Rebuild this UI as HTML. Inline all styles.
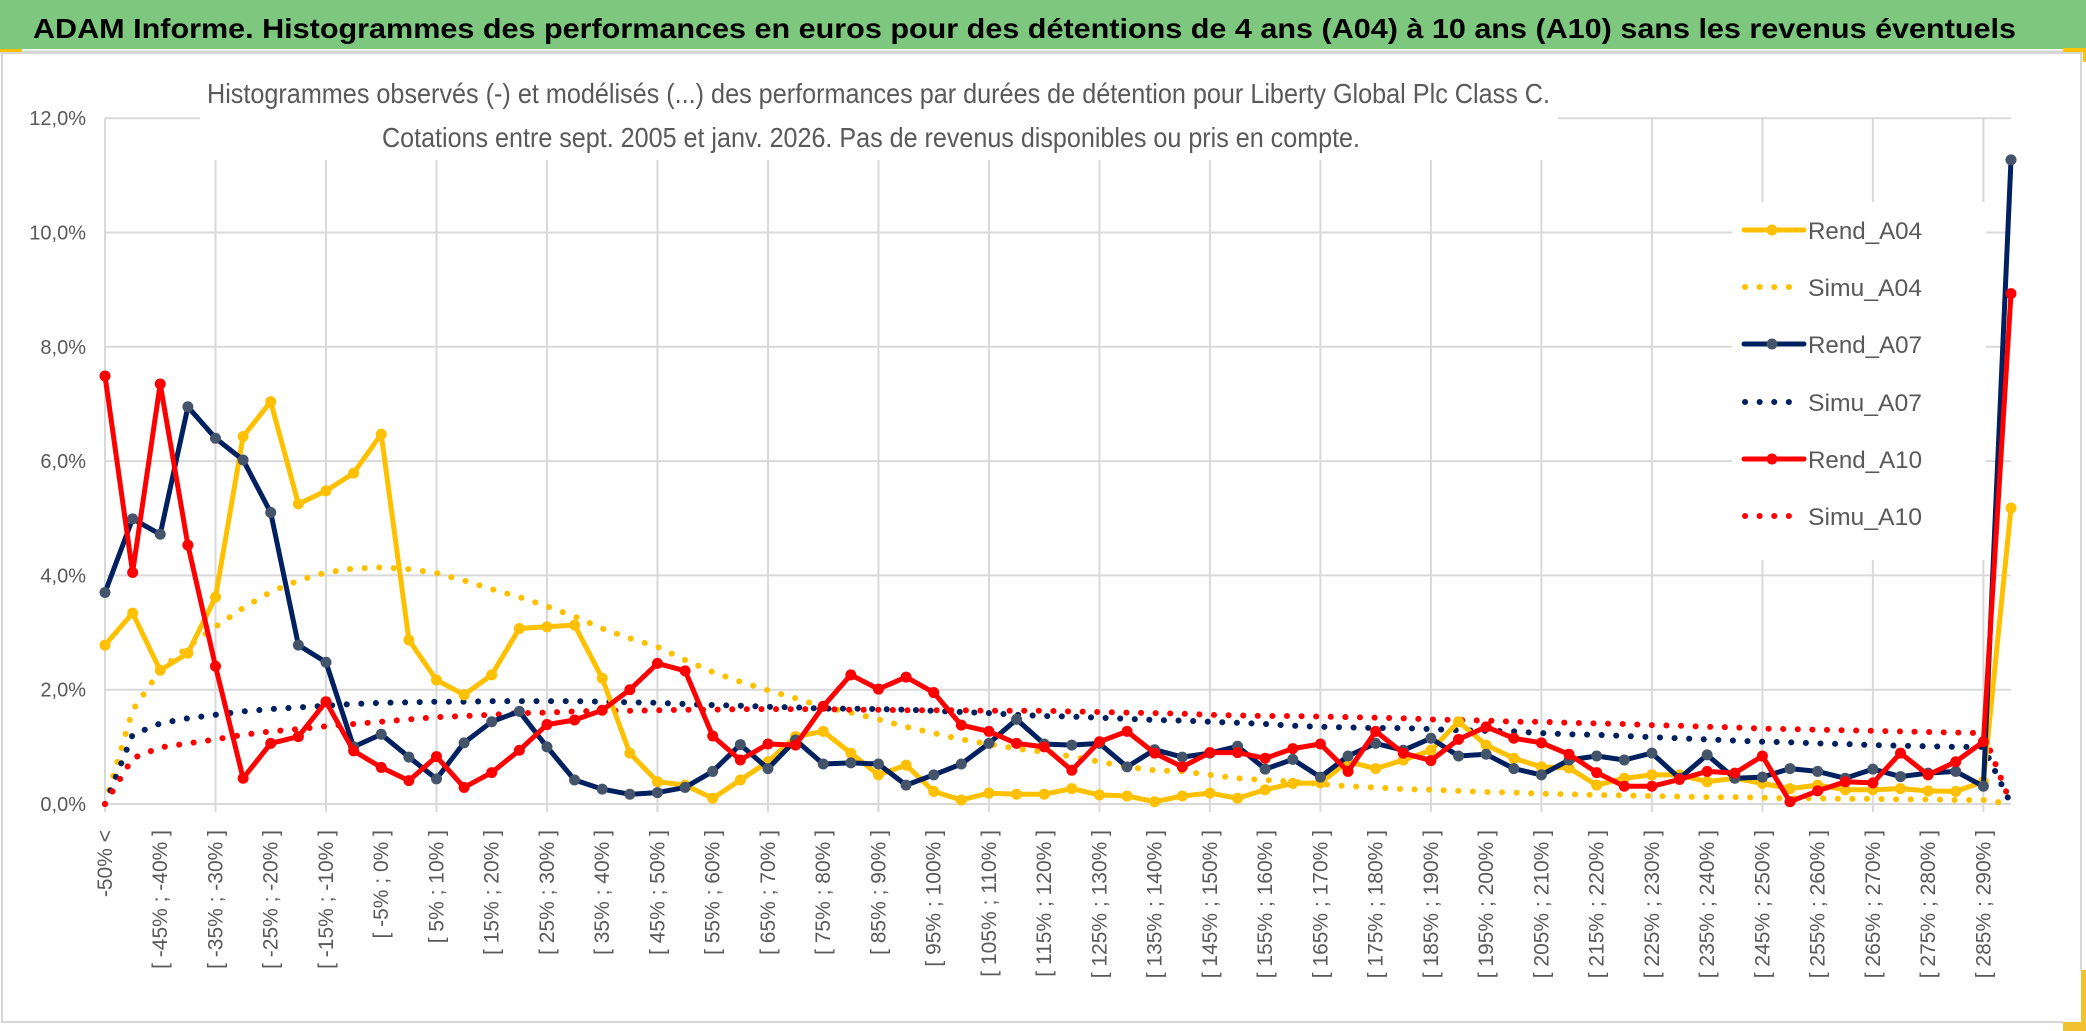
<!DOCTYPE html>
<html><head><meta charset="utf-8"><style>
html,body{margin:0;padding:0;background:#fff;}
svg{display:block;font-family:"Liberation Sans",sans-serif;}
</style></head><body>
<svg id="chart" width="2086" height="1031" viewBox="0 0 2086 1031" xmlns="http://www.w3.org/2000/svg">
<rect x="0" y="0" width="2086" height="1031" fill="#fff"/>
<rect x="0" y="0" width="2086" height="49" fill="#7DC87E"/>
<line x1="0" y1="52" x2="2086" y2="52" stroke="#D6D6D6" stroke-width="3"/>
<rect x="0" y="49" width="22" height="3" fill="#FFC000"/>
<rect x="2" y="53" width="2079" height="969" fill="none" stroke="#D6D6D6" stroke-width="2"/>
<rect x="2063" y="48" width="23" height="4" fill="#FFC000"/><rect x="2083" y="48" width="3" height="14" fill="#FFC000"/>
<rect x="2063" y="970" width="23" height="61" fill="#F2C230"/><rect x="2063" y="970" width="18" height="52" fill="#fff"/>
<text x="33" y="38" font-size="28" font-weight="bold" fill="#000" textLength="1983" lengthAdjust="spacingAndGlyphs">ADAM Informe. Histogrammes des performances en euros pour des détentions de 4 ans (A04) à 10 ans (A10) sans les revenus éventuels</text>
<g id="grid"></g>
<g id="yticks"></g>
<g id="xticks"></g>
<rect x="200" y="56" width="1358" height="104" fill="#fff"/>
<text x="207" y="103" font-size="28" fill="#595959" textLength="1343" lengthAdjust="spacingAndGlyphs">Histogrammes observés (-) et modélisés (...) des performances par durées de détention pour Liberty Global Plc Class C.</text>
<text x="382" y="147" font-size="28" fill="#595959" textLength="978" lengthAdjust="spacingAndGlyphs">Cotations entre sept. 2005 et janv. 2026. Pas de revenus disponibles ou pris en compte.</text>
<rect x="1732" y="202" width="254" height="358" fill="#fff"/>
<g id="series"></g>
<g id="legend"></g>
</svg>
<script>
const categoryLows = [];
for (let k = -50; k <= 290; k += 5) categoryLows.push(k);
const categoryLabels = ["-50% <"].concat(categoryLows.map(function(k){return "[ " + k + "% ; " + (k + 5) + "% ]";}));
const yTickValues = [0, 2, 4, 6, 8, 10, 12];
const yTickLabels = ["0,0%", "2,0%", "4,0%", "6,0%", "8,0%", "10,0%", "12,0%"];
const rendA04 = [2.78,3.34,2.34,2.64,3.62,6.43,7.04,5.25,5.48,5.79,6.47,2.87,2.17,1.91,2.26,3.07,3.10,3.13,2.20,0.89,0.39,0.33,0.10,0.42,0.74,1.18,1.27,0.89,0.51,0.68,0.22,0.07,0.19,0.17,0.17,0.27,0.16,0.14,0.04,0.14,0.19,0.10,0.25,0.36,0.37,0.74,0.62,0.77,0.94,1.44,1.03,0.80,0.65,0.63,0.33,0.45,0.51,0.51,0.39,0.45,0.36,0.27,0.33,0.25,0.25,0.27,0.23,0.22,0.39,5.18];
const simuA04 = [0,1.64,2.34,2.75,3.10,3.43,3.71,3.91,4.05,4.12,4.14,4.11,4.04,3.91,3.76,3.62,3.46,3.28,3.07,2.90,2.75,2.52,2.31,2.14,1.99,1.85,1.70,1.60,1.48,1.35,1.24,1.13,1.05,0.97,0.91,0.83,0.74,0.65,0.59,0.57,0.51,0.45,0.42,0.39,0.35,0.31,0.29,0.26,0.25,0.23,0.21,0.20,0.18,0.17,0.16,0.15,0.14,0.13,0.12,0.12,0.11,0.10,0.10,0.09,0.09,0.08,0.08,0.07,0.07,0];
const rendA07 = [3.70,4.99,4.72,6.95,6.40,6.02,5.10,2.78,2.48,1.00,1.22,0.82,0.44,1.07,1.44,1.62,1.00,0.42,0.26,0.17,0.20,0.29,0.57,1.04,0.62,1.12,0.70,0.72,0.70,0.33,0.51,0.70,1.06,1.48,1.05,1.03,1.06,0.65,0.95,0.82,0.89,1.01,0.61,0.78,0.47,0.84,1.06,0.94,1.15,0.84,0.87,0.62,0.51,0.77,0.84,0.77,0.89,0.45,0.86,0.45,0.47,0.62,0.57,0.45,0.61,0.48,0.54,0.57,0.31,11.27];
const simuA07 = [0,1.21,1.41,1.50,1.56,1.62,1.66,1.69,1.72,1.75,1.77,1.78,1.79,1.79,1.80,1.80,1.80,1.80,1.79,1.78,1.77,1.75,1.73,1.72,1.70,1.69,1.67,1.67,1.66,1.65,1.63,1.61,1.59,1.56,1.54,1.53,1.51,1.49,1.47,1.46,1.44,1.42,1.40,1.37,1.35,1.34,1.33,1.33,1.31,1.29,1.28,1.27,1.24,1.22,1.21,1.19,1.17,1.15,1.13,1.11,1.09,1.08,1.06,1.05,1.03,1.02,1.01,1.00,1.00,0];
const rendA10 = [7.49,4.05,7.35,4.53,2.41,0.45,1.06,1.18,1.79,0.93,0.64,0.41,0.83,0.29,0.55,0.94,1.39,1.47,1.64,2.00,2.46,2.33,1.19,0.77,1.05,1.03,1.71,2.26,2.01,2.22,1.95,1.38,1.27,1.06,1.00,0.59,1.09,1.27,0.89,0.65,0.90,0.90,0.80,0.97,1.05,0.57,1.27,0.89,0.76,1.13,1.35,1.15,1.07,0.87,0.55,0.31,0.31,0.43,0.57,0.54,0.84,0.04,0.23,0.39,0.37,0.89,0.51,0.74,1.09,8.93];
const simuA10 = [0,0.80,0.99,1.06,1.13,1.21,1.27,1.31,1.36,1.40,1.44,1.48,1.52,1.54,1.56,1.59,1.60,1.62,1.63,1.63,1.64,1.65,1.65,1.66,1.66,1.66,1.66,1.65,1.65,1.64,1.64,1.64,1.63,1.63,1.63,1.62,1.61,1.60,1.59,1.58,1.56,1.55,1.54,1.54,1.53,1.52,1.51,1.50,1.48,1.47,1.46,1.44,1.44,1.42,1.41,1.40,1.38,1.37,1.35,1.34,1.32,1.31,1.30,1.29,1.28,1.27,1.26,1.25,1.24,0];
const seriesNames = ["Rend_A04","Simu_A04","Rend_A07","Simu_A07","Rend_A10","Simu_A10"];

const NS = "http://www.w3.org/2000/svg";
const X0 = 105, X1 = 2011, Y0 = 804, PER = 57.15;
function xOf(i){ return X0 + i * (X1 - X0) / (categoryLabels.length - 1); }
function yOf(v){ return Y0 - v * PER; }
function mk(tag, attrs, parent){ const e = document.createElementNS(NS, tag); for (const k in attrs) e.setAttribute(k, attrs[k]); parent.appendChild(e); return e; }

const grid = document.getElementById('grid');
yTickValues.forEach(function(v){
  const l = mk('line', {x1: X0, x2: X1, y1: yOf(v), y2: yOf(v), stroke: '#D9D9D9', 'stroke-width': 2}, grid);
  
  
});
for (let i = 0; i < categoryLabels.length; i += 4) {
  const l = mk('line', {x1: xOf(i), x2: xOf(i), y1: yOf(12), y2: Y0 + 8, stroke: '#D9D9D9', 'stroke-width': 2}, grid);
  
  
}
const yt = document.getElementById('yticks');
yTickValues.forEach(function(v, j){
  const t = mk('text', {x: 86, y: yOf(v) + 7, 'text-anchor': 'end', 'font-size': 20, fill: '#595959'}, yt);
  t.textContent = yTickLabels[j];
  
  
});
const xt = document.getElementById('xticks');
for (let i = 0; i < categoryLabels.length - 1; i += 2) {
  const x = xOf(i) + 7, y = 830;
  const t = mk('text', {x: x, y: y, transform: 'rotate(-90 ' + x + ' ' + y + ')', 'text-anchor': 'end', 'font-size': 21, fill: '#595959'}, xt);
  t.textContent = categoryLabels[i];
  
  
}

const sg = document.getElementById('series');
function pts(arr){ return arr.map(function(v, i){ return xOf(i).toFixed(1) + ',' + yOf(v).toFixed(1); }).join(' '); }
function solid(arr, color, marker, name){
  const g = mk('g', {}, sg);
  
  
  mk('polyline', {points: pts(arr), fill: 'none', stroke: color, 'stroke-width': 5, 'stroke-linejoin': 'round'}, g);
  arr.forEach(function(v, i){
    const c = mk('circle', {cx: xOf(i), cy: yOf(v), r: 5.5, fill: marker}, g);
    
    
  });
}
function dotted(arr, color, name){
  const p = mk('polyline', {points: pts(arr), fill: 'none', stroke: color, 'stroke-width': 6, 'stroke-linecap': 'round', 'stroke-dasharray': '0.1 14.5'}, sg);
  
  
}
dotted(simuA04, '#FFC000', 'simu-a04-line');
dotted(simuA07, '#002060', 'simu-a07-line');
dotted(simuA10, '#FF0000', 'simu-a10-line');
solid(rendA04, '#FFC000', '#FFC000', 'rend-a04-line');
solid(rendA07, '#002060', '#44546A', 'rend-a07-line');
solid(rendA10, '#FF0000', '#FF0000', 'rend-a10-line');

const lg = document.getElementById('legend');
const legendColors = ['#FFC000','#FFC000','#002060','#002060','#FF0000','#FF0000'];
const legendMarkers = ['#FFC000','','#44546A','','#FF0000',''];
const legendY = [230, 287, 344, 402, 459, 516];
seriesNames.forEach(function(n, j){
  const g = mk('g', {}, lg);
  
  
  const y = legendY[j];
  if (j % 2 === 0) {
    mk('line', {x1: 1744, x2: 1804, y1: y, y2: y, stroke: legendColors[j], 'stroke-width': 5, 'stroke-linecap': 'round'}, g);
    mk('circle', {cx: 1772, cy: y, r: 5.5, fill: legendMarkers[j]}, g);
  } else {
    mk('line', {x1: 1745, x2: 1802, y1: y, y2: y, stroke: legendColors[j], 'stroke-width': 6, 'stroke-linecap': 'round', 'stroke-dasharray': '0.1 14.5'}, g);
  }
  const t = mk('text', {x: 1808, y: y + 9, 'font-size': 24, fill: '#595959', textLength: 114, lengthAdjust: 'spacingAndGlyphs'}, g);
  t.textContent = n;
});
</script>
</body></html>
